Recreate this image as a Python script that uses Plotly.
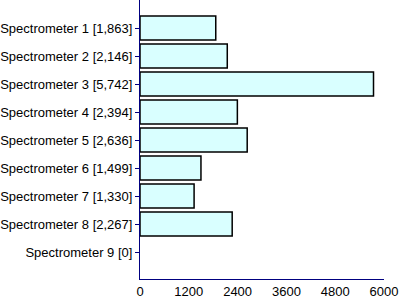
import plotly.graph_objects as go

names = ["Spectrometer 1", "Spectrometer 2", "Spectrometer 3", "Spectrometer 4",
         "Spectrometer 5", "Spectrometer 6", "Spectrometer 7", "Spectrometer 8",
         "Spectrometer 9"]
values = [1863, 2146, 5742, 2394, 2636, 1499, 1330, 2267, 0]
labels = [f"{n} [{v:,}]" for n, v in zip(names, values)]
x_ticks = [0, 1200, 2400, 3600, 4800, 6000]

fig = go.Figure(go.Bar(
    y=labels, x=values, orientation="h",
    marker=dict(color="#D9FFFF",
                line=dict(color="black", width=[1.5 if v > 0 else 0 for v in values])),
    width=0.857,
))
fig.update_layout(
    width=400, height=298,
    margin=dict(l=140, r=16, t=0, b=19),
    plot_bgcolor="white", paper_bgcolor="white",
    font=dict(family="Liberation Sans, Arial", size=13, color="black"),
    showlegend=False,
)
fig.update_xaxes(range=[0, 6000], tickvals=x_ticks, ticktext=[str(t) for t in x_ticks],
                 showgrid=False, zeroline=False, showline=True, linecolor="#000080",
                 linewidth=1, ticks="", tickfont=dict(size=13))
fig.update_yaxes(categoryorder="array", categoryarray=labels, range=[8.96, -1],
                 showgrid=False, zeroline=False, showline=True, linecolor="#000080",
                 linewidth=1, ticks="outside", ticklen=4, tickcolor="#000080",
                 tickfont=dict(size=13))
fig.write_html("out.html")
